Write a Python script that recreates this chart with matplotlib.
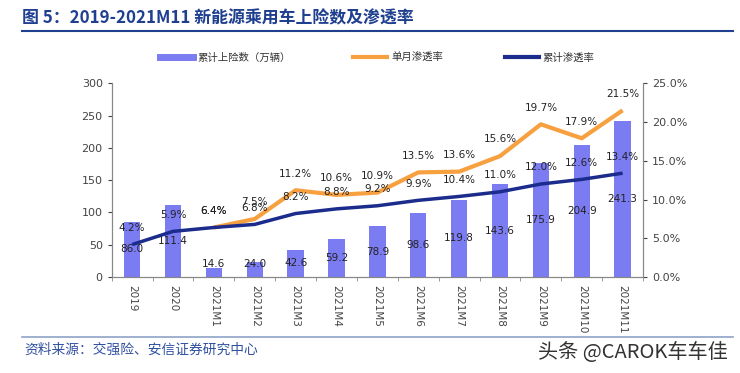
import numpy as np
import matplotlib
matplotlib.use('Agg')
import matplotlib.pyplot as plt
from matplotlib.lines import Line2D
from matplotlib.ticker import FuncFormatter, MultipleLocator

plt.rcParams['font.family'] = ['Noto Sans CJK SC', 'DejaVu Sans']

categories = ['2019', '2020', '2021M1', '2021M2', '2021M3', '2021M4', '2021M5',
              '2021M6', '2021M7', '2021M8', '2021M9', '2021M10', '2021M11']
cum_insured = [86.0, 111.4, 14.6, 24.0, 42.6, 59.2, 78.9, 98.6, 119.8, 143.6, 175.9, 204.9, 241.3]
monthly_rate = [np.nan, np.nan, 6.4, 7.5, 11.2, 10.6, 10.9, 13.5, 13.6, 15.6, 19.7, 17.9, 21.5]
cum_rate = [4.2, 5.9, 6.4, 6.8, 8.2, 8.8, 9.2, 9.9, 10.4, 11.0, 12.0, 12.6, 13.4]

bar_color = '#7B7BF2'
orange = '#F7A040'
navy = '#1C2C8C'
title_blue = '#1F3F8F'

fig = plt.figure(figsize=(7.4, 3.73), dpi=100)
ax = fig.add_axes([0.151, 0.257, 0.718, 0.52])
ax2 = ax.twinx()

x = np.arange(len(categories))
ax.bar(x, cum_insured, width=0.4, color=bar_color, zorder=1)
for i, v in enumerate(cum_insured):
    ax.text(i, max(v / 2, 21), '%.1f' % v, ha='center', va='center', fontsize=7.5,
            color='#222222', family='DejaVu Sans')

ax2.plot(x, monthly_rate, color=orange, lw=3, zorder=2, solid_capstyle='butt')
ax2.plot(x, cum_rate, color=navy, lw=2.5, zorder=3, solid_capstyle='butt')
for i, v in enumerate(monthly_rate):
    if not np.isnan(v):
        ax2.annotate('%.1f%%' % v, (i, v), xytext=(0, 12), textcoords='offset points',
                     ha='center', va='center', fontsize=7.5, color='#222222', family='DejaVu Sans')
for i, v in enumerate(cum_rate):
    ax2.annotate('%.1f%%' % v, (i, v), xytext=(0, 12), textcoords='offset points',
                 ha='center', va='center', fontsize=7.5, color='#222222', family='DejaVu Sans')

ax.set_xlim(-0.5, len(categories) - 0.5)
ax.set_ylim(0, 300)
ax2.set_ylim(0, 25)
ax.yaxis.set_major_locator(MultipleLocator(50))
ax2.yaxis.set_major_locator(MultipleLocator(5))
ax2.yaxis.set_major_formatter(FuncFormatter(lambda v, p: '%.1f%%' % v))

ax.set_xticks(x)
ax.set_xticklabels(categories, rotation=-90, fontsize=7.5, color='#444444', family='DejaVu Sans')
ax.set_xticks(np.arange(-0.5, len(categories)), minor=True)
ax.tick_params(axis='x', which='major', length=0, pad=6)
ax.tick_params(axis='x', which='minor', length=3, color='#888888')
ax.tick_params(axis='y', labelsize=8, colors='#444444', length=3)
ax2.tick_params(axis='y', labelsize=8, colors='#444444', length=3)
for a in (ax, ax2):
    for lab in a.get_yticklabels():
        lab.set_family('DejaVu Sans')
    a.spines['top'].set_visible(False)
    for s in ('left', 'right', 'bottom'):
        a.spines[s].set_color('#888888')
        a.spines[s].set_linewidth(0.8)
for t in ax.yaxis.get_ticklines() + ax2.yaxis.get_ticklines():
    t.set_color('#888888')

handles = [Line2D([], [], color=bar_color, lw=5),
           Line2D([], [], color=orange, lw=3),
           Line2D([], [], color=navy, lw=3)]
labels = ['累计上险数（万辆）', '单月渗透率', '累计渗透率']
fig.legend(handles, labels, loc='center', bbox_to_anchor=(0.51, 0.845), ncol=3,
           frameon=False, fontsize=7.5, handlelength=3.2, columnspacing=6, handletextpad=0.4,
           labelcolor='#333333')

fig.text(0.03, 0.952, '图 5：2019-2021M11 新能源乘用车上险数及渗透率', fontsize=12.2,
         fontweight='bold', color=title_blue, va='center')
fig.add_artist(Line2D([0.03, 0.99], [0.917, 0.917], color=title_blue, lw=1.5))
fig.add_artist(Line2D([0.03, 0.99], [0.097, 0.097], color='#8FA3C8', lw=1.2))
fig.text(0.033, 0.062, '资料来源：交强险、安信证券研究中心', fontsize=9.9, color='#2F4F9F', va='center')
fig.text(0.727, 0.054, '头条 @CAROK车车佳', fontsize=14.5, color='#333333', va='center',
         fontweight='light')

fig.savefig('out.png', dpi=100)
